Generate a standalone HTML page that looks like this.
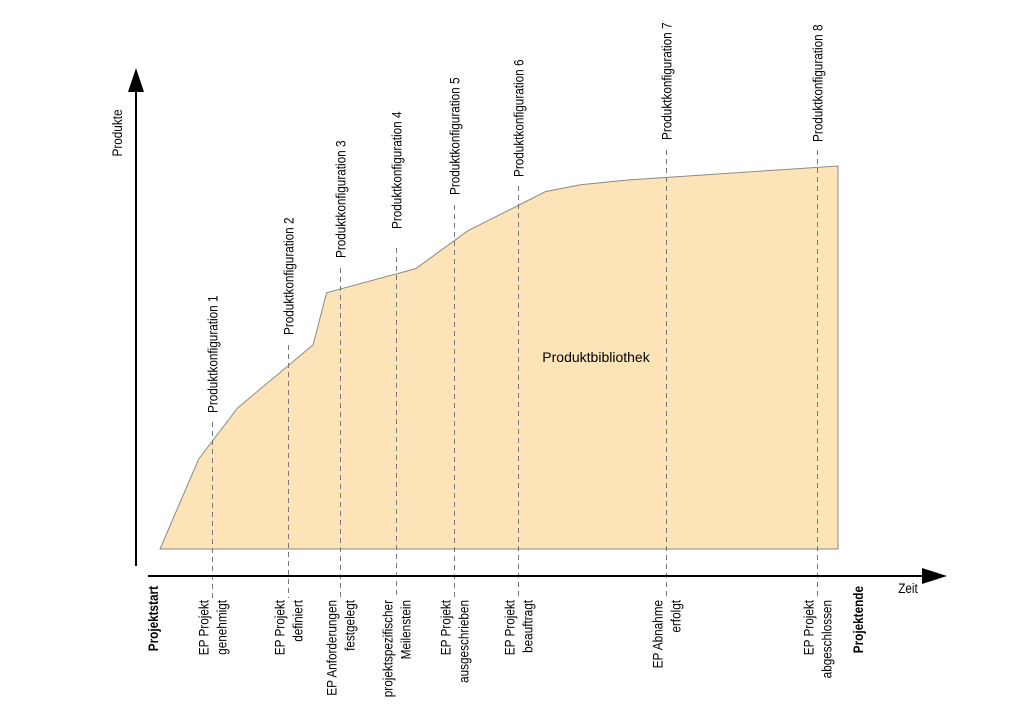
<!DOCTYPE html>
<html><head><meta charset="utf-8"><style>
html,body{margin:0;padding:0;background:#fff}
svg{display:block;font-family:"Liberation Sans",Arial,sans-serif}
</style></head><body>
<svg width="1024" height="716" viewBox="0 0 1024 716">
<g id="plot"></g>
</svg>
<script>
// Data
const curveX = [0, 1.0, 2.0, 3.95, 4.3, 6.6, 7.95, 9.95, 10.85, 12.15, 17.5];
const curveY = [0, 23.5, 36.8, 53.3, 66.9, 73.2, 83.1, 93.3, 95.1, 96.4, 100];
const milestoneX = [1.35, 3.3, 4.65, 6.1, 7.6, 9.25, 13.05, 16.95];
const topLabels = ["Produktkonfiguration 1","Produktkonfiguration 2","Produktkonfiguration 3","Produktkonfiguration 4","Produktkonfiguration 5","Produktkonfiguration 6","Produktkonfiguration 7","Produktkonfiguration 8"];
const labelBottomY = [413, 335, 258, 229, 195, 177, 140, 142];
const dashStartY = [422, 345, 268, 248, 205, 186, 150, 150];
const bottomLine1 = ["EP Projekt","EP Projekt","EP Anforderungen","projektspezifischer","EP Projekt","EP Projekt","EP Abnahme","EP Projekt"];
const bottomLine2 = ["genehmigt","definiert","festgelegt","Meilenstein","ausgeschrieben","beauftragt","erfolgt","abgeschlossen"];

const x0 = 160, xEnd = 838, xMax = 17.5;
const yBase = 549, yTopPx = 166;
const sx = v => x0 + v / xMax * (xEnd - x0);
const sy = v => yBase - v / 100 * (yBase - yTopPx);
const NS = "http://www.w3.org/2000/svg";
const g = document.getElementById('plot');
function mk(tag, attrs, parent){ const e=document.createElementNS(NS,tag); for(const k in attrs) e.setAttribute(k,attrs[k]); (parent||g).appendChild(e); return e; }

// area
let d = "M" + sx(0) + "," + yBase;
curveX.forEach((v,i)=>{ d += " L" + sx(v) + "," + sy(curveY[i]); });
d += " L" + sx(curveX[curveX.length-1]) + "," + yBase + " Z";
const area = mk('path',{d:d,fill:'#fde4b8',stroke:'#8a8a8a','stroke-width':1});



const lbl = mk('text',{x:596,y:362,'font-size':14,'text-anchor':'middle',fill:'#000'});
lbl.textContent = 'Produktbibliothek';



// milestones
milestoneX.forEach((v,i)=>{
  const x = Math.round(sx(v)) + 0.5;
  const ln = mk('line',{x1:x,y1:dashStartY[i],x2:x,y2:598,stroke:'#777','stroke-width':1,'stroke-dasharray':'5,4'});
  
  
  const tt = mk('text',{transform:`translate(${x+5},${labelBottomY[i]}) rotate(-90) scale(0.84,1)`,'font-size':14,fill:'#000'});
  tt.textContent = topLabels[i];
  
  
  const b1 = mk('text',{transform:`translate(${x-4},600) rotate(-90) scale(0.84,1)`,'font-size':14,'text-anchor':'end',fill:'#000'});
  b1.textContent = bottomLine1[i];
  
  
  const b2 = mk('text',{transform:`translate(${x+14},600) rotate(-90) scale(0.84,1)`,'font-size':14,'text-anchor':'end',fill:'#000'});
  b2.textContent = bottomLine2[i];
  
  
});

// axes
const ya = mk('line',{x1:136,y1:566,x2:136,y2:88,stroke:'#000','stroke-width':2});


const yar = mk('polygon',{points:'136,68 128,92 144,92',fill:'#000'});


const xa = mk('line',{x1:148,y1:576,x2:925,y2:576,stroke:'#000','stroke-width':2});


const xar = mk('polygon',{points:'947,576 922,568 922,584',fill:'#000'});



const yt = mk('text',{transform:'translate(122,133) rotate(-90) scale(0.84,1)','font-size':14,'text-anchor':'middle',fill:'#000'});
yt.textContent='Produkte';


const xt = mk('text',{transform:'translate(908,593) scale(0.84,1)','font-size':14,'text-anchor':'middle',fill:'#000'});
xt.textContent='Zeit';



const ps = mk('text',{transform:'translate(158,586) rotate(-90) scale(0.84,1)','font-size':14,'font-weight':'bold','text-anchor':'end',fill:'#000'});
ps.textContent='Projektstart';


const pe = mk('text',{transform:'translate(863,586) rotate(-90) scale(0.84,1)','font-size':14,'font-weight':'bold','text-anchor':'end',fill:'#000'});
pe.textContent='Projektende';


</script>
</body></html>
